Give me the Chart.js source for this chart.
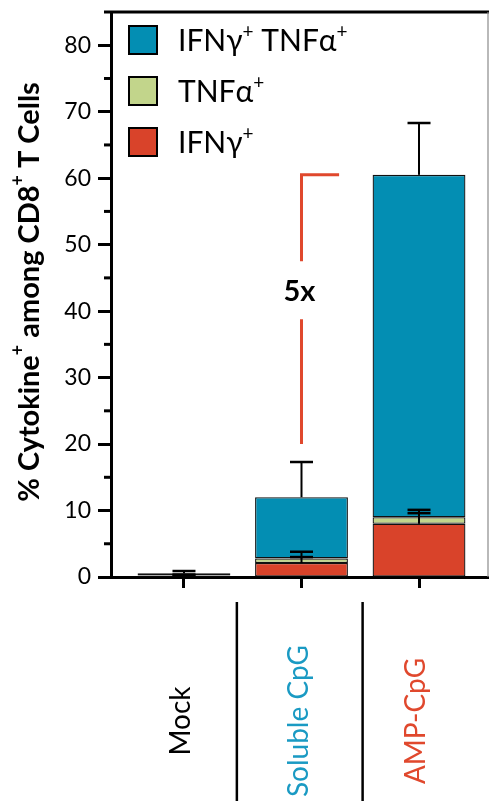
<!DOCTYPE html>
<html>
<head>
<meta charset="utf-8">
<script src="https://cdn.jsdelivr.net/npm/chart.js@4"></script>
<style>
  html, body { margin: 0; padding: 0; background: #fff; }
  #wrap { width: 489px; height: 801px; }
</style>
</head>
<body>
<div id="wrap"><canvas id="c" width="489" height="801"></canvas></div>
<script>
// ---------------- data ----------------
const categories = ['Mock', 'Soluble CpG', 'AMP-CpG'];
const seriesLabels = ['IFNγ⁺', 'TNFα⁺', 'IFNγ⁺ TNFα⁺'];
const ifngOnly   = [0.2, 2.1, 8.0];
const tnfaOnly   = [0.05, 0.7, 1.0];
const doublePos  = [0.3, 9.2, 51.5];
const ifngErr    = [0.1, 0.9, 1.6];
const tnfaErr    = [0.1, 1.0, 1.1];
const doubleErr  = [0.35, 5.3, 7.8];
const yMajorTicks = [0, 10, 20, 30, 40, 50, 60, 70, 80];
const yMinorTicks = [5, 15, 25, 35, 45, 55, 65, 75, 85];
const yAxisMax = 85;
const yTitle = '% Cytokine⁺ among CD8⁺ T Cells';
const foldText = '5x';
const foldBottomValue = 20;
const foldTextValue = 43;

// ---------------- styles ----------------
const seriesColors = ['#D9432A', '#C2D58B', '#038EB3'];
const categoryColors = ['#000000', '#1A9AC3', '#E0482D'];
const accentRed = '#E0482D';
const FONT = 'Lato, "Open Sans", sans-serif';

const allSeries = [ifngOnly, tnfaOnly, doublePos];
const allErrs = [ifngErr, tnfaErr, doubleErr];

function splitSup(text) {
  const parts = [];
  let buf = '';
  for (const ch of text) {
    if (ch === '⁺') { if (buf) parts.push({t: buf, sup: false}); buf = ''; parts.push({t: '+', sup: true}); }
    else buf += ch;
  }
  if (buf) parts.push({t: buf, sup: false});
  return parts;
}
function richWidth(ctx, text, size, weight) {
  const mainFont = `${weight} ${size}px ${FONT}`;
  const supFont = `${weight} ${Math.round(size * 0.62)}px ${FONT}`;
  let total = 0;
  for (const p of splitSup(text)) { ctx.font = p.sup ? supFont : mainFont; total += ctx.measureText(p.t).width; }
  return total;
}
function drawRich(ctx, text, x, y, size, weight, color) {
  // x is the centre of the run; '⁺' drawn as a raised small '+'
  const parts = splitSup(text);
  const mainFont = `${weight} ${size}px ${FONT}`;
  const supFont = `${weight} ${Math.round(size * 0.62)}px ${FONT}`;
  const total = richWidth(ctx, text, size, weight);
  let cx = x - total / 2;
  ctx.fillStyle = color;
  ctx.textAlign = 'left';
  for (const p of parts) {
    ctx.font = p.sup ? supFont : mainFont;
    ctx.fillText(p.t, cx, p.sup ? y - size * 0.42 : y);
    cx += ctx.measureText(p.t).width;
  }
}

const decorPlugin = {
  id: 'decor',
  afterDatasetsDraw(chart) {
    const ctx = chart.ctx;
    const ys = chart.scales.y;
    ctx.save();
    ctx.strokeStyle = '#000';
    for (let d = 0; d < allSeries.length; d++) {
      const meta = chart.getDatasetMeta(d);
      meta.data.forEach((bar, i) => {
        let cum = 0;
        for (let k = 0; k <= d; k++) cum += allSeries[k][i];
        const yTop = ys.getPixelForValue(cum);
        const yErr = ys.getPixelForValue(cum + allErrs[d][i]);
        ctx.lineWidth = 2;
        ctx.beginPath();
        ctx.moveTo(bar.x, yTop);
        ctx.lineTo(bar.x, yErr);
        ctx.stroke();
        ctx.lineWidth = 2.5;
        ctx.beginPath();
        ctx.moveTo(bar.x - 11.5, yErr);
        ctx.lineTo(bar.x + 11.5, yErr);
        ctx.stroke();
      });
    }
    ctx.restore();
  },
  afterDraw(chart) {
    const ctx = chart.ctx;
    const ys = chart.scales.y, xs = chart.scales.x;
    const area = chart.chartArea;
    ctx.save();
    // minor ticks
    ctx.strokeStyle = '#000';
    ctx.lineWidth = 3;
    yMinorTicks.forEach(v => {
      const y = ys.getPixelForValue(v);
      ctx.beginPath(); ctx.moveTo(area.left - 7, y); ctx.lineTo(area.left, y); ctx.stroke();
    });
    // top border
    ctx.beginPath(); ctx.moveTo(area.left, area.top); ctx.lineTo(chart.width, area.top); ctx.stroke();
    // right border
    ctx.strokeStyle = '#8a8a8a'; ctx.lineWidth = 1.2;
    ctx.beginPath(); ctx.moveTo(area.right, area.top); ctx.lineTo(area.right, area.bottom); ctx.stroke();

    // y-axis title, sized to span the same length as in the source figure
    let tSize = 27;
    tSize = tSize * 420 / richWidth(ctx, yTitle, tSize, 'bold');
    ctx.save();
    ctx.translate(30, 292);
    ctx.rotate(-Math.PI / 2);
    ctx.textBaseline = 'middle';
    drawRich(ctx, yTitle, 0, 0, tSize, 'bold', '#000');
    ctx.restore();

    // legend (top entry = last dataset)
    const ds = chart.data.datasets;
    for (let r = 0; r < ds.length; r++) {
      const d = ds[ds.length - 1 - r];
      const bx = area.left + 17, by = area.top + 13 + r * 51;
      ctx.fillStyle = d.backgroundColor;
      ctx.fillRect(bx, by, 30, 30);
      ctx.strokeStyle = '#000'; ctx.lineWidth = 2;
      ctx.strokeRect(bx + 1, by + 1, 28, 28);
      ctx.textBaseline = 'alphabetic';
      const w = richWidth(ctx, d.label, 30, 'normal');
      drawRich(ctx, d.label, bx + 50 + w / 2, by + 26, 30, 'normal', '#000');
    }

    // fold-change bracket
    const total2 = allSeries.reduce((s, a) => s + a[2], 0);
    const bxp = xs.getPixelForValue(1);
    const bxe = xs.getPixelForValue(1.32);
    const yT = ys.getPixelForValue(total2);
    const yL = ys.getPixelForValue(foldTextValue);
    const yB = ys.getPixelForValue(foldBottomValue);
    ctx.strokeStyle = accentRed; ctx.lineWidth = 3;
    ctx.beginPath();
    ctx.moveTo(bxe, yT); ctx.lineTo(bxp, yT); ctx.lineTo(bxp, yL - 30);
    ctx.moveTo(bxp, yL + 28); ctx.lineTo(bxp, yB);
    ctx.stroke();
    ctx.fillStyle = '#000';
    ctx.font = `bold 29px ${FONT}`;
    ctx.textAlign = 'center'; ctx.textBaseline = 'middle';
    ctx.fillText(foldText, bxp - 2, yL);

    // category labels (rotated)
    categories.forEach((c, i) => {
      ctx.save();
      ctx.translate(xs.getPixelForValue(i) - 3, area.bottom + 144);
      ctx.rotate(-Math.PI / 2);
      ctx.font = `28px ${FONT}`;
      ctx.fillStyle = categoryColors[i];
      ctx.textAlign = 'center'; ctx.textBaseline = 'middle';
      ctx.fillText(c, 0, 0);
      ctx.restore();
    });
    // separators
    ctx.strokeStyle = '#000'; ctx.lineWidth = 2.5;
    [0.45, 1.52].forEach(v => {
      const x = xs.getPixelForValue(v);
      ctx.beginPath(); ctx.moveTo(x, area.bottom + 25); ctx.lineTo(x, chart.height); ctx.stroke();
    });
    ctx.restore();
  }
};

const datasets = seriesLabels.map((lab, d) => ({
  label: lab,
  data: categories.map((c, i) => ({x: i, y: allSeries[d][i]})),
  backgroundColor: seriesColors[d],
  borderColor: '#111',
  borderWidth: 1.3,
  borderSkipped: false,
  categoryPercentage: 1,
  barPercentage: 0.79
}));

new Chart(document.getElementById('c'), {
  type: 'bar',
  data: { datasets },
  options: {
    responsive: false,
    animation: false,
    devicePixelRatio: 1,
    layout: { padding: { top: 12, right: 1, left: 0, bottom: 0 } },
    plugins: { legend: { display: false }, tooltip: { enabled: false } },
    scales: {
      x: {
        type: 'linear',
        stacked: true,
        offset: false,
        min: -0.621,
        max: 2.587,
        afterBuildTicks: s => { s.ticks = categories.map((c, i) => ({value: i})); },
        afterFit: s => { s.height = 224; s.paddingLeft = 0; s.paddingRight = 0; },
        ticks: { display: false },
        grid: { offset: false, drawOnChartArea: false, drawTicks: true, tickLength: 11, tickWidth: 3, tickColor: '#000' },
        border: { display: true, width: 3, color: '#000' }
      },
      y: {
        stacked: true,
        min: 0,
        max: yAxisMax,
        afterBuildTicks: s => { s.ticks = yMajorTicks.map(v => ({value: v})); },
        afterFit: s => { s.width = 111; s.paddingTop = 0; s.paddingBottom = 0; },
        ticks: { font: { family: FONT, size: 23 }, color: '#000', padding: 7 },
        grid: { drawOnChartArea: false, drawTicks: true, tickLength: 13, tickWidth: 3, tickColor: '#000' },
        border: { display: true, width: 3, color: '#000' },
        title: { display: false }
      }
    }
  },
  plugins: [decorPlugin]
});
</script>
</body>
</html>
